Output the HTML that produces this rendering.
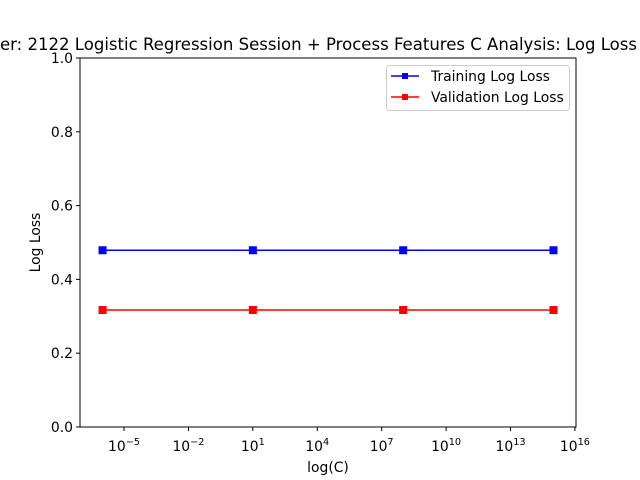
<!DOCTYPE html>
<html><head><meta charset="utf-8"><style>
body{margin:0;background:#fff;overflow:hidden}
svg{display:block;font-family:"DejaVu Sans","Liberation Sans",sans-serif}
</style></head><body>
<svg id="chart" width="640" height="480">
<rect width="640" height="480" fill="#fff"/>
<text x="0" y="50" font-size="16.7" textLength="637" lengthAdjust="spacingAndGlyphs">er: 2122 Logistic Regression Session + Process Features C Analysis: Log Loss</text>
<g id="axes"></g>
<g id="series"></g>
<rect x="80" y="58" width="496" height="369" fill="none" stroke="#000" stroke-width="1"/>
<text x="328" y="472" font-size="13.9" text-anchor="middle">log(C)</text>
<text transform="translate(40,242.5) rotate(-90)" font-size="13.9" text-anchor="middle">Log Loss</text>
<g>
<rect x="386.5" y="65.5" width="183" height="45" rx="3" fill="#fff" stroke="#ccc"/>
<g>
<line x1="391" y1="76" x2="419" y2="76" stroke="#00f" stroke-width="1.5"/>
<rect x="402" y="73" width="6" height="6" fill="#00f"/>
<text x="431" y="81" font-size="13.9">Training Log Loss</text></g>
<g>
<line x1="391" y1="97" x2="419" y2="97" stroke="#f00" stroke-width="1.5"/>
<rect x="402" y="94" width="6" height="6" fill="#f00"/>
<text x="431" y="102" font-size="13.9">Validation Log Loss</text></g>
</g>
</svg>
<script>
const cValues = [1e-6, 1e1, 1e8, 1e15];
const trainLoss = [0.479, 0.479, 0.479, 0.479];
const valLoss = [0.317, 0.317, 0.317, 0.317];
const xTickExps = [-5, -2, 1, 4, 7, 10, 13, 16];
const yTicks = [0.0, 0.2, 0.4, 0.6, 0.8, 1.0];

const NS = "http://www.w3.org/2000/svg";
const L = 80, R = 576, T = 58, B = 427;
const lx0 = -7.05, lx1 = 16.05;
function xs(v){ return L + (Math.log10(v) - lx0) / (lx1 - lx0) * (R - L); }
function ys(v){ return B - v * (B - T); }
function mk(tag, attrs, parent){ const e = document.createElementNS(NS, tag); for (const k in attrs) e.setAttribute(k, attrs[k]); parent.appendChild(e); return e; }
const axes = document.getElementById('axes');
xTickExps.forEach(function(p){
  const x = xs(Math.pow(10, p));
  if (x > R + 1) return;
  const g = mk('g', {}, axes);
  
  
  mk('line', {x1:x, y1:B, x2:x, y2:B+4, stroke:'#000'}, g);
  const t = mk('text', {x:x, y:B+24, 'font-size':13.9, 'text-anchor':'middle'}, g);
  t.textContent = '10';
  const s = mk('tspan', {dy:-6, 'font-size':9.7}, t);
  s.textContent = p < 0 ? '\u2212' + (-p) : String(p);
});
yTicks.forEach(function(v){
  const y = ys(v);
  const g = mk('g', {}, axes);
  
  
  mk('line', {x1:L-4, y1:y, x2:L, y2:y, stroke:'#000'}, g);
  const t = mk('text', {x:L-7, y:y+5, 'font-size':13.9, 'text-anchor':'end'}, g);
  t.textContent = v.toFixed(1);
});
const series = document.getElementById('series');
[[trainLoss, '#00f', 'training-log-loss'], [valLoss, '#f00', 'validation-log-loss']].forEach(function(s){
  const g = mk('g', {}, series);
  
  
  const pts = cValues.map(function(c, i){ return xs(c) + ',' + ys(s[0][i]); }).join(' ');
  const pl = mk('polyline', {points:pts, fill:'none', stroke:s[1], 'stroke-width':1.5}, g);
  
  
  cValues.forEach(function(c, i){
    const r = mk('rect', {x:xs(c)-4, y:ys(s[0][i])-4, width:8, height:8, fill:s[1]}, g);
    
    
  });
});
</script>
</body></html>
